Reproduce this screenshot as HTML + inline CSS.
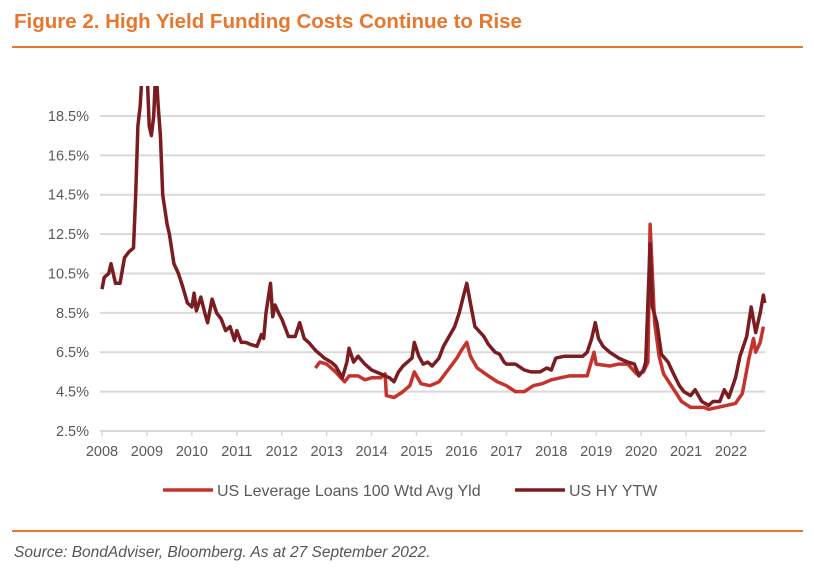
<!DOCTYPE html>
<html><head><meta charset="utf-8"><style>
body{margin:0;width:814px;height:575px;background:#fff;font-family:"Liberation Sans",sans-serif;position:relative;overflow:hidden}
.t{position:absolute;left:14px;top:10px;font-size:20.5px;font-weight:bold;color:#e8762d}
.hr{position:absolute;left:12px;width:791px;height:2px;background:#e8762d}
.src{position:absolute;left:14px;top:544px;font-size:15.5px;font-style:italic;color:#555}
</style></head><body>
<div class="t">Figure 2. High Yield Funding Costs Continue to Rise</div>
<div class="hr" style="top:46px"></div>
<div class="hr" style="top:530px"></div>
<div class="src">Source: BondAdviser, Bloomberg. As at 27 September 2022.</div>
<svg id="c" width="814" height="575" style="position:absolute;left:0;top:0"></svg>
<script>
const yTicks=[2.5,4.5,6.5,8.5,10.5,12.5,14.5,16.5,18.5];
const xYears=[2008,2009,2010,2011,2012,2013,2014,2015,2016,2017,2018,2019,2020,2021,2022];
const hyDates=[2008.0,2008.05,2008.15,2008.2,2008.3,2008.4,2008.5,2008.6,2008.7,2008.75,2008.8,2008.85,2008.9,2009.0,2009.05,2009.1,2009.15,2009.2,2009.25,2009.3,2009.35,2009.45,2009.5,2009.6,2009.7,2009.8,2009.9,2010.0,2010.05,2010.1,2010.2,2010.3,2010.35,2010.45,2010.55,2010.65,2010.75,2010.85,2010.95,2011.0,2011.1,2011.2,2011.3,2011.45,2011.55,2011.6,2011.65,2011.75,2011.8,2011.85,2011.95,2012.0,2012.15,2012.3,2012.4,2012.5,2012.6,2012.75,2012.95,2013.1,2013.2,2013.35,2013.45,2013.5,2013.6,2013.7,2013.85,2014.0,2014.2,2014.4,2014.5,2014.6,2014.7,2014.8,2014.9,2014.95,2015.05,2015.15,2015.25,2015.35,2015.5,2015.6,2015.75,2015.85,2015.95,2016.05,2016.12,2016.2,2016.3,2016.5,2016.6,2016.75,2016.85,2016.95,2017.0,2017.2,2017.4,2017.55,2017.75,2017.9,2018.0,2018.1,2018.3,2018.5,2018.7,2018.8,2018.9,2018.98,2019.05,2019.15,2019.3,2019.5,2019.7,2019.85,2019.95,2020.05,2020.1,2020.2,2020.25,2020.35,2020.45,2020.6,2020.7,2020.85,2020.95,2021.1,2021.2,2021.35,2021.5,2021.6,2021.75,2021.85,2021.95,2022.1,2022.2,2022.35,2022.45,2022.55,2022.65,2022.72,2022.75];
const hyValues=[9.7,10.3,10.5,11.0,10.0,10.0,11.3,11.6,11.8,14.5,18.0,19.0,21,21,18,17.5,18.5,21,19,17.5,14.5,13,12.5,11.0,10.5,9.8,9.0,8.8,9.5,8.6,9.3,8.4,8.0,9.2,8.5,8.2,7.6,7.8,7.1,7.6,7.0,7.0,6.9,6.8,7.4,7.2,8.5,10.0,8.3,8.9,8.4,8.2,7.3,7.3,8.0,7.2,7.0,6.6,6.2,6.0,5.8,5.2,6.0,6.7,6.0,6.3,5.9,5.6,5.4,5.2,5.0,5.5,5.8,6.0,6.2,7.0,6.3,5.9,6.0,5.8,6.2,6.8,7.4,7.8,8.5,9.4,10.0,9.0,7.8,7.3,6.9,6.5,6.4,6.0,5.9,5.9,5.6,5.5,5.5,5.7,5.6,6.2,6.3,6.3,6.3,6.5,7.2,8.0,7.2,6.8,6.5,6.2,6.0,5.9,5.3,5.6,6.0,12.0,8.8,8.0,6.4,6.0,5.5,4.8,4.5,4.3,4.6,4.0,3.8,4.0,4.0,4.6,4.2,5.2,6.3,7.3,8.8,7.5,8.5,9.4,9.0];
const llDates=[2012.75,2012.85,2013.0,2013.2,2013.4,2013.5,2013.7,2013.85,2014.0,2014.2,2014.3,2014.33,2014.5,2014.7,2014.85,2014.95,2015.1,2015.3,2015.5,2015.7,2015.9,2016.0,2016.12,2016.2,2016.35,2016.6,2016.8,2017.0,2017.2,2017.4,2017.6,2017.8,2018.0,2018.2,2018.4,2018.6,2018.8,2018.95,2019.0,2019.3,2019.5,2019.7,2019.9,2020.05,2020.15,2020.2,2020.3,2020.4,2020.5,2020.7,2020.9,2021.1,2021.4,2021.5,2021.7,2021.9,2022.1,2022.25,2022.4,2022.5,2022.55,2022.65,2022.72];
const llValues=[5.7,6.0,5.9,5.5,5.0,5.3,5.3,5.1,5.2,5.2,5.4,4.3,4.2,4.5,4.8,5.5,4.9,4.8,5.0,5.6,6.2,6.6,7.0,6.3,5.7,5.3,5.0,4.8,4.5,4.5,4.8,4.9,5.1,5.2,5.3,5.3,5.3,6.5,5.9,5.8,5.9,5.9,5.4,5.5,6.0,13.0,8.0,6.3,5.4,4.7,4.0,3.7,3.7,3.6,3.7,3.8,3.9,4.4,6.2,7.2,6.5,7.0,7.8];
const NS='http://www.w3.org/2000/svg',svg=document.getElementById('c');
const x=v=>102+(v-2008)*44.93, y=v=>431-(v-2.5)*19.69;
function mk(t,a){const e=document.createElementNS(NS,t);for(const k in a)e.setAttribute(k,a[k]);svg.appendChild(e);return e;}
yTicks.forEach(v=>{
 const g=mk('line',{x1:100,x2:765,y1:y(v),y2:y(v),stroke:'#d9d9d9','stroke-width':2});
 
 
 const t=mk('text',{x:89,y:y(v)+5,'text-anchor':'end','font-size':14.5,fill:'#595959'});t.textContent=v.toFixed(1)+'%';
 
 
});
xYears.forEach(v=>{
 const k=mk('line',{x1:x(v),x2:x(v),y1:431,y2:436,stroke:'#d9d9d9','stroke-width':1.5});
 
 
 const t=mk('text',{x:x(v),y:456,'text-anchor':'middle','font-size':14.5,fill:'#595959'});t.textContent=v;
 
 
});
mk('defs',{}).innerHTML='<clipPath id="cp"><rect x="95" y="86" width="680" height="360"/></clipPath>';
function line(d,vals,col,name){
 const p=mk('path',{d:d.map((t,i)=>(i?'L':'M')+x(t).toFixed(1)+','+y(vals[i]).toFixed(1)).join(''),fill:'none',stroke:col,'stroke-width':3.5,'stroke-linejoin':'round','clip-path':'url(#cp)'});
 
 
}
line(llDates,llValues,'#c5332d','series-leverage-loans');
line(hyDates,hyValues,'#7b1c21','series-us-hy-ytw');
[[163,'#c5332d','US Leverage Loans 100 Wtd Avg Yld','legend-leverage-loans'],[515,'#7b1c21','US HY YTW','legend-us-hy-ytw']].forEach(([lx,c,l,n])=>{
 const g=mk('line',{x1:lx,x2:lx+50,y1:490,y2:490,stroke:c,'stroke-width':3.5});
 
 
 const t=mk('text',{x:lx+54,y:496,'font-size':16,fill:'#595959'});t.textContent=l;
 
 
});
</script>
</body></html>
